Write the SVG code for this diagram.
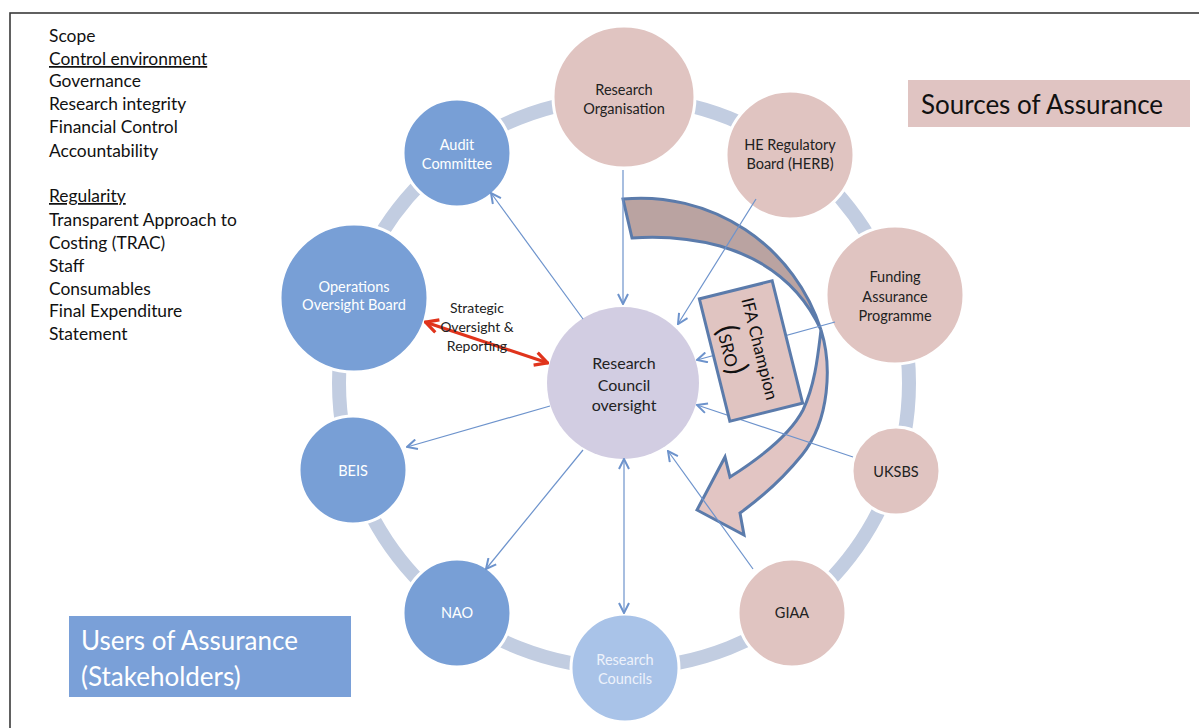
<svg xmlns="http://www.w3.org/2000/svg" width="1199" height="728" viewBox="0 0 1199 728">
<style>
text{font-family:Lato,"Liberation Sans",sans-serif}
.lst{font-size:17.4px;fill:#111}
.nt{font-size:14.5px;text-anchor:middle}
.dk{fill:#222}
.wh{fill:#fff}
.blue{fill:#789fd6;stroke:#fff;stroke-width:3}
.lblue{fill:#a9c3e8;stroke:#fff;stroke-width:3}
.pink{fill:#e0c4c1;stroke:#fff;stroke-width:3}
.con line{stroke:#6d93cc;stroke-width:1.2;fill:none}
.ar{stroke:#5b7bab;stroke-width:3;stroke-linejoin:miter}
</style>
<defs>
<marker id="ah" viewBox="0 0 12 12" refX="11" refY="6" markerWidth="12" markerHeight="12" markerUnits="userSpaceOnUse" orient="auto-start-reverse">
<path d="M1,1 L11,6 L1,11" fill="none" stroke="#6d93cc" stroke-width="2"/>
</marker>
<marker id="rh" viewBox="0 0 16 16" refX="15" refY="8" markerWidth="16" markerHeight="16" markerUnits="userSpaceOnUse" orient="auto-start-reverse">
<path d="M2,1.5 L14.5,8 L2,14.5" fill="none" stroke="#e0341c" stroke-width="3.2"/>
</marker>
</defs>
<rect x="0" y="0" width="1199" height="728" fill="#fff"/>
<rect x="10" y="13" width="1200" height="730" fill="none" stroke="#3a3a3a" stroke-width="1.6"/>

<g id="left-text" class="lst">
<text x="49" y="42">Scope</text>
<text x="49" y="65" text-decoration="underline">Control environment</text>
<text x="49" y="87">Governance</text>
<text x="49" y="110">Research integrity</text>
<text x="49" y="133">Financial Control</text>
<text x="49" y="157">Accountability</text>
<text x="49" y="202" text-decoration="underline">Regularity</text>
<text x="49" y="226">Transparent Approach to</text>
<text x="49" y="249">Costing (TRAC)</text>
<text x="49" y="272">Staff</text>
<text x="49" y="295">Consumables</text>
<text x="49" y="317">Final Expenditure</text>
<text x="49" y="340">Statement</text>
</g>

<g id="ring"><circle cx="624" cy="383" r="285" fill="none" stroke="#c2cde1" stroke-width="14"/></g>

<g id="research-organisation"><circle class="pink" cx="624" cy="97" r="71"/><text class="nt dk" x="624" y="95">Research</text><text class="nt dk" x="624" y="114">Organisation</text></g>
<g id="he-regulatory-board"><circle class="pink" cx="790" cy="155" r="64"/><text class="nt dk" x="790" y="150">HE Regulatory</text><text class="nt dk" x="790" y="169">Board (HERB)</text></g>
<g id="funding-assurance"><circle class="pink" cx="895" cy="295" r="69"/><text class="nt dk" x="895" y="282">Funding</text><text class="nt dk" x="895" y="302">Assurance</text><text class="nt dk" x="895" y="321">Programme</text></g>
<g id="uksbs"><circle class="pink" cx="896" cy="471" r="44"/><text class="nt dk" x="896" y="477">UKSBS</text></g>
<g id="giaa"><circle class="pink" cx="792" cy="613" r="54"/><text class="nt dk" x="792" y="618">GIAA</text></g>
<g id="research-councils"><circle class="lblue" cx="625" cy="668" r="54"/><text class="nt" fill="#eef2fb" x="625" y="665">Research</text><text class="nt" fill="#eef2fb" x="625" y="684">Councils</text></g>
<g id="nao"><circle class="blue" cx="457" cy="613" r="54"/><text class="nt wh" x="457" y="618">NAO</text></g>
<g id="beis"><circle class="blue" cx="353" cy="470" r="54"/><text class="nt wh" x="353" y="476">BEIS</text></g>
<g id="operations-oversight-board"><circle class="blue" cx="354" cy="298" r="74"/><text class="nt wh" x="354" y="292">Operations</text><text class="nt wh" x="354" y="310">Oversight Board</text></g>
<g id="audit-committee"><circle class="blue" cx="457" cy="153" r="54"/><text class="nt wh" x="457" y="150">Audit</text><text class="nt wh" x="457" y="169">Committee</text></g>
<g id="rc-oversight"><circle cx="623" cy="383" r="76" fill="#d2cde2"/><text x="624" y="369" font-size="16" text-anchor="middle" fill="#222">Research</text><text x="624" y="391" font-size="16" text-anchor="middle" fill="#222">Council</text><text x="624" y="411" font-size="16" text-anchor="middle" fill="#222">oversight</text></g>

<g id="curved-arrow">
<path class="ar" fill="#baa3a1" d="M623,199 A189,189 0 0 1 821,330 C805,295 775,262 720,246 C690,238 660,236 632,238 Z"/>
<path class="ar" fill="#e2c5c3" d="M821,330 C832,365 830,420 802,455 C785,476 765,495 740,513 L744,535 L697,510 L725,457 L730,477 C760,458 790,435 803,410 C815,385 818,355 821,330 Z"/>
</g>

<g id="connectors" class="con">
<line x1="623" y1="170" x2="623" y2="304" marker-end="url(#ah)"/>
<line x1="756" y1="199" x2="678" y2="324" marker-end="url(#ah)"/>
<line x1="835" y1="322" x2="697" y2="360" marker-end="url(#ah)"/>
<line x1="853" y1="457" x2="697" y2="405" marker-end="url(#ah)"/>
<line x1="753" y1="569" x2="668" y2="451" marker-end="url(#ah)"/>
<line x1="624" y1="459" x2="624" y2="613" marker-start="url(#ah)" marker-end="url(#ah)"/>
<line x1="583" y1="450" x2="486" y2="569" marker-end="url(#ah)"/>
<line x1="550" y1="406" x2="407" y2="447" marker-end="url(#ah)"/>
<line x1="583" y1="319" x2="491" y2="193" marker-end="url(#ah)"/>
<line x1="425" y1="322" x2="548" y2="363" style="stroke:#e0341c;stroke-width:3.2" marker-start="url(#rh)" marker-end="url(#rh)"/>
</g>

<g id="strategic-label" font-size="14" fill="#222" text-anchor="middle">
<text x="477" y="313">Strategic</text>
<text x="477" y="332">Oversight &amp;</text>
<text x="477" y="351">Reporting</text>
</g>

<g id="ifa-champion" transform="translate(751,351) rotate(76)">
<rect x="-63" y="-37.5" width="126" height="75" fill="#e0c4c1" stroke="#5b7bab" stroke-width="3"/>
<text x="0" y="-3" font-size="17" text-anchor="middle" fill="#111">IFA Champion</text>
<text x="-6" y="28" text-anchor="middle" fill="#111"><tspan font-size="30">(</tspan><tspan font-size="17">SRO</tspan><tspan font-size="30">)</tspan></text>
</g>

<g id="sources-of-assurance"><rect x="908" y="80" width="282" height="47" fill="#e0c4c2"/><text x="921" y="114" font-size="26" fill="#111">Sources of Assurance</text></g>
<g id="users-of-assurance"><rect x="69" y="616" width="282" height="81" fill="#7aa0d8"/><text x="81" y="650" font-size="26" fill="#fff">Users of Assurance</text><text x="81" y="686" font-size="26" fill="#fff">(Stakeholders)</text></g>
</svg>
